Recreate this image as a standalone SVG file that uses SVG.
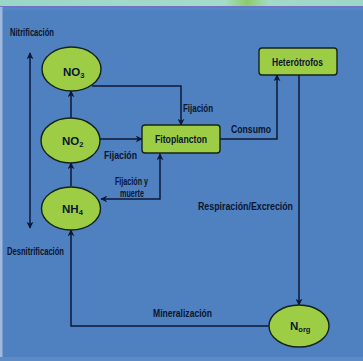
<svg xmlns="http://www.w3.org/2000/svg" width="363" height="361" viewBox="0 0 363 361">
  <defs>
    <marker id="arr" viewBox="0 0 10 10" refX="9" refY="5" markerWidth="7" markerHeight="7" orient="auto-start-reverse" markerUnits="userSpaceOnUse">
      <path d="M0,0 L10,5 L0,10 L3,5 Z" fill="#0c1838"/>
    </marker>
    <linearGradient id="band" x1="0" y1="0" x2="1" y2="0">
      <stop offset="0" stop-color="#9ad6c6"/>
      <stop offset="0.62" stop-color="#a4dcc8"/>
      <stop offset="0.68" stop-color="#8ccc6a"/>
      <stop offset="0.74" stop-color="#a2dac6"/>
      <stop offset="1" stop-color="#9cd6c8"/>
    </linearGradient>
  </defs>
  <style>
    .bg { fill: #4f80bf; }
    .node { fill: #9ccd44; stroke: #14231a; stroke-width: 1.4; }
    .link { fill: none; stroke: #0c1838; stroke-width: 1.5; }
    text { font-family: "Liberation Sans Narrow", "Liberation Sans", Arial, sans-serif; font-weight: bold; fill: #0a1530; }
    .lbl { font-size: 11px; }
    .nl { font-size: 11.5px; }
    .sub { font-size: 7.5px; }
  </style>

  <!-- page background -->
  <rect class="bg" x="0" y="0" width="363" height="361"/>
  <rect x="0" y="0" width="363" height="6" fill="url(#band)"/>
  <rect x="0" y="6" width="363" height="1.5" fill="#6f72c8"/>
  <rect x="0" y="7.5" width="363" height="3" fill="#5586c6"/>
  <rect x="0" y="7" width="2.5" height="354" fill="#9fb8de"/>
  <rect x="0" y="357" width="363" height="4" fill="#5d8bc6"/>

  <!-- connectors -->
  <g id="connectors">
    <!-- nitrification / denitrification scale -->
    <line class="link" x1="30" y1="53" x2="30" y2="228" marker-start="url(#arr)" marker-end="url(#arr)"/>
    <!-- NH4 -> NO2 -> NO3 -->
    <line class="link" x1="71" y1="186" x2="71" y2="163" marker-end="url(#arr)"/>
    <line class="link" x1="71" y1="118" x2="71" y2="91" marker-end="url(#arr)"/>
    <!-- NO3 -> Fitoplancton -->
    <polyline class="link" points="92,86 181,86 181,125" marker-end="url(#arr)"/>
    <!-- NO2 -> Fitoplancton -->
    <line class="link" x1="100" y1="139" x2="142" y2="139" marker-end="url(#arr)"/>
    <!-- Fitoplancton <-> NH4 -->
    <polyline class="link" points="160,154 160,199 101,199" marker-start="url(#arr)" marker-end="url(#arr)"/>
    <!-- Fitoplancton -> Heterotrofos -->
    <polyline class="link" points="220,139 277,139 277,75" marker-end="url(#arr)"/>
    <!-- Heterotrofos -> Norg -->
    <line class="link" x1="299" y1="75" x2="299" y2="305" marker-end="url(#arr)"/>
    <!-- Norg -> NH4 -->
    <polyline class="link" points="269,326 71,326 71,230" marker-end="url(#arr)"/>
  </g>

  <!-- connector labels -->
  <g id="labels">
    <text class="lbl" x="10" y="36" textLength="44" lengthAdjust="spacingAndGlyphs">Nitrificación</text>
    <text class="lbl" x="7" y="255" textLength="57" lengthAdjust="spacingAndGlyphs">Desnitrificación</text>
    <text class="lbl" x="183" y="112" textLength="30" lengthAdjust="spacingAndGlyphs">Fijación</text>
    <text class="lbl" x="104" y="159" textLength="33" lengthAdjust="spacingAndGlyphs">Fijación</text>
    <text class="lbl" x="115" y="185" textLength="33" lengthAdjust="spacingAndGlyphs">Fijación y</text>
    <text class="lbl" x="120" y="197" textLength="24" lengthAdjust="spacingAndGlyphs">muerte</text>
    <text class="lbl" x="231" y="133" textLength="40" lengthAdjust="spacingAndGlyphs">Consumo</text>
    <text class="lbl" x="198" y="210" textLength="95" lengthAdjust="spacingAndGlyphs">Respiración/Excreción</text>
    <text class="lbl" x="153" y="317" textLength="59" lengthAdjust="spacingAndGlyphs">Mineralización</text>
  </g>

  <!-- nodes -->
  <g id="no3">
    <ellipse class="node" cx="71.5" cy="69" rx="29.5" ry="22"/>
    <text class="nl" x="63" y="76">NO<tspan class="sub" dy="2">3</tspan></text>
  </g>
  <g id="no2">
    <ellipse class="node" cx="70.5" cy="140.5" rx="29.5" ry="22.5"/>
    <text class="nl" x="62" y="145">NO<tspan class="sub" dy="2">2</tspan></text>
  </g>
  <g id="nh4">
    <ellipse class="node" cx="71" cy="208.5" rx="29.5" ry="21.5"/>
    <text class="nl" x="62" y="213">NH<tspan class="sub" dy="2">4</tspan></text>
  </g>
  <g id="norg">
    <ellipse class="node" cx="299" cy="326" rx="30" ry="21"/>
    <text class="nl" x="290" y="330">N<tspan class="sub" dy="2">org</tspan></text>
  </g>
  <g id="fitoplancton">
    <rect class="node" x="142" y="125" width="78" height="28" rx="3"/>
    <text class="lbl" x="155" y="143" textLength="52" lengthAdjust="spacingAndGlyphs">Fitoplancton</text>
  </g>
  <g id="heterotrofos">
    <rect class="node" x="259" y="48" width="78" height="27" rx="3"/>
    <text class="lbl" x="272" y="66" textLength="51" lengthAdjust="spacingAndGlyphs">Heterótrofos</text>
  </g>
</svg>
